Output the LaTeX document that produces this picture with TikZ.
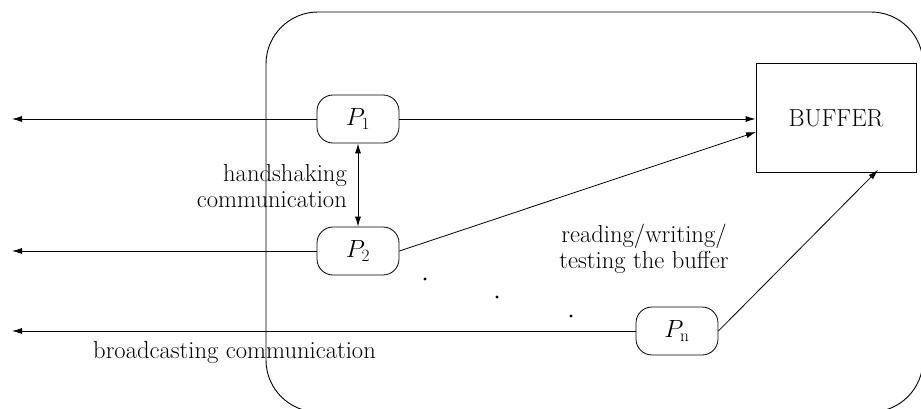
\documentclass[tikz,border=0pt]{standalone}
\usetikzlibrary{arrows.meta}
\begin{document}
\begin{tikzpicture}[x=1pt,y=-1pt,
  every node/.style={font=\fontsize{24.6}{26}\selectfont},
  proc/.style={draw, line width=0.8pt, rounded corners=16pt, minimum width=82pt, minimum height=48pt, inner sep=0pt},
  lbl/.style={inner sep=0pt},
  conn/.style={line width=0.8pt},
  tip/.style={-{Latex[length=10pt,width=6pt]}}]
\useasboundingbox (0,0) rectangle (921,409);
\begin{scope}
\clip (0,0) rectangle (921,409);
\draw[line width=0.9pt, rounded corners=52pt] (266,12) rectangle (923,412);
\end{scope}
\node[proc] (p1) at (358,119) {$P_1$};
\node[proc] (p2) at (358,251) {$P_2$};
\node[proc] (pn) at (677,331) {$P_{\mathrm{n}}$};
\node[draw, line width=0.8pt, minimum width=160pt, minimum height=109pt, inner sep=0pt] (buf) at (836,118) {BUFFER};
\coordinate (l1) at (12,119);
\coordinate (l2) at (12,251);
\coordinate (l3) at (12,331);
\coordinate (b2) at (756,132);
\coordinate (b3) at (878,170);
\draw[conn,tip] (p1) -- (l1);
\draw[conn,tip] (p2) -- (l2);
\draw[conn,tip] (pn) -- (l3);
\draw[conn,tip] (p1) -- (buf.west |- p1);
\draw[conn,tip] (p2.east) -- (b2);
\draw[conn,tip] (pn.east) -- (b3);
\draw[conn,{Latex[length=10pt,width=6pt]}-{Latex[length=10pt,width=6pt]}] (p1) -- (p2);
\node[lbl, align=right, anchor=east] (hs) at (347,186) {handshaking\\communication};
\node[lbl, align=center] (rw) at (644,249) {reading/writing/\\testing the buffer};
\node[lbl, anchor=west] (bc) at (93,352) {broadcasting communication};
\fill (425,279) circle (1.7pt);
\fill (497,297) circle (1.7pt);
\fill (571,316) circle (1.7pt);
\end{tikzpicture}
\end{document}
